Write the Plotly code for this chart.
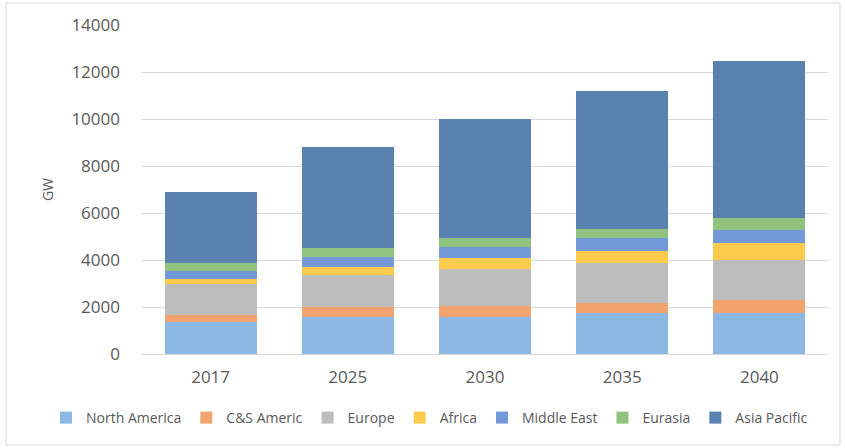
import plotly.graph_objects as go

years = ["2017", "2025", "2030", "2035", "2040"]
regions = ["North America", "C&S Americ", "Europe", "Africa", "Middle East", "Eurasia", "Asia Pacific"]
north_america = [1380, 1560, 1590, 1730, 1760]
cs_america = [290, 420, 450, 450, 540]
europe = [1300, 1380, 1560, 1680, 1700]
africa = [220, 350, 470, 540, 710]
middle_east = [350, 420, 490, 520, 570]
eurasia = [340, 400, 360, 380, 490]
asia_pacific = [3020, 4270, 5080, 5900, 6680]
colors = ["#8DB8E3", "#F2A46E", "#BDBDBD", "#FDCB4C", "#7399D8", "#90C47E", "#5A82B0"]

series = [north_america, cs_america, europe, africa, middle_east, eurasia, asia_pacific]

fig = go.Figure()
for name, vals, col in zip(regions, series, colors):
    fig.add_trace(go.Bar(x=years, y=vals, name=name, marker=dict(color=col, line=dict(width=0))))

PL, PT, PW, PH = 142, 25, 686, 329

fig.update_layout(
    barmode="stack",
    bargap=0.33,
    width=845, height=448,
    margin=dict(l=PL, r=845 - PL - PW, t=PT, b=448 - PT - PH, autoexpand=False),
    paper_bgcolor="white", plot_bgcolor="white",
    font=dict(family="Open Sans, Liberation Sans, sans-serif", size=14, color="#595959"),
    showlegend=True,
    legend=dict(orientation="h", xref="paper", yref="paper", x=(46 - PL) / PW, xanchor="left",
                y=(PT + PH - 418) / PH, yanchor="middle", font=dict(size=14, color="#595959"),
                itemwidth=30, traceorder="normal", tracegroupgap=0,
                bgcolor="rgba(0,0,0,0)"),
    xaxis=dict(showgrid=False, showline=True, linecolor="#D9D9D9", ticks="",
               tickfont=dict(size=17, color="#595959"), ticklabelstandoff=8),
    yaxis=dict(range=[0, 14000], dtick=2000, tickformat="d", showgrid=True, gridcolor="#D9D9D9",
               zeroline=False, showline=False, ticks="", ticklabelstandoff=21,
               tickfont=dict(size=17, color="#595959"),
               title=dict(text="GW", standoff=14, font=dict(size=14, color="#595959"))),
    shapes=[dict(type="rect", xref="paper", yref="paper",
                 x0=(6 - PL) / PW, x1=(840 - PL) / PW,
                 y0=(PT + PH - 445) / PH, y1=(PT + PH - 3) / PH,
                 line=dict(color="#D9D9D9", width=1), fillcolor="rgba(0,0,0,0)", layer="below")],
)

fig.write_html("out.html")
